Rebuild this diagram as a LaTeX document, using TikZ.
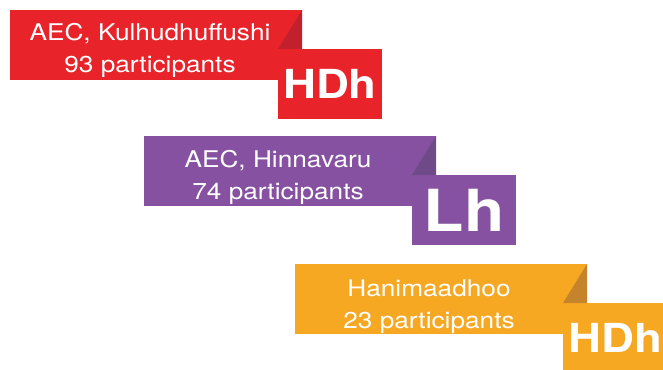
\documentclass[tikz,border=0pt]{standalone}
\usepackage{fontspec}
\setmainfont{TeX Gyre Heros}[FakeStretch=1.14]
\usetikzlibrary{positioning}
\definecolor{hdhred}{HTML}{E8232A}
\definecolor{hdhreddark}{HTML}{C2202C}
\definecolor{lhpurple}{HTML}{8551A0}
\definecolor{lhpurpledark}{HTML}{6F4A89}
\definecolor{hdhorange}{HTML}{F7A823}
\definecolor{hdhorangedark}{HTML}{C5832C}

\begin{document}
\begin{tikzpicture}[x=1pt,y=-1pt,
		banner/.style={fill=#1,minimum width=292pt,minimum height=70pt,inner sep=0pt,outer sep=0pt,anchor=north west},
		atollbox/.style={fill=#1,minimum width=104pt,minimum height=70pt,inner sep=0pt,outer sep=0pt,text=white,font=\fontsize{40}{40}\selectfont\bfseries},
		bannertext/.style={text=white,align=center,font=\fontsize{23}{32}\selectfont}]
			\useasboundingbox (0,0) rectangle (663,369);
			\clip (0,0) rectangle (663,369);
			% Kulhudhuffushi
			\node [banner=hdhred] (ban1) at (10,10) {};
			\node [atollbox=hdhred,below right=39pt and -24pt of ban1.north east] (box1) {HDh};
			\fill [hdhreddark] (ban1.north east) -- (box1.north west) -- (box1.north west -| ban1.east) -- cycle;
			\node [bannertext] (txt1) at ([xshift=-6pt,yshift=-5pt]ban1.center) {AEC, Kulhudhuffushi\\93 participants};
			% Hinnavaru
			\node [banner=lhpurple] (ban2) at (144,136) {};
			\node [atollbox=lhpurple,font=\fontsize{58}{58}\selectfont\bfseries,below right=39pt and -24pt of ban2.north east] (box2) {Lh};
			\fill [lhpurpledark] (ban2.north east) -- (box2.north west) -- (box2.north west -| ban2.east) -- cycle;
			\node [bannertext] (txt2) at ([xshift=-12pt,yshift=-6pt]ban2.center) {AEC, Hinnavaru\\74 participants};
			% Hanimaadhoo
			\node [banner=hdhorange] (ban3) at (295,264) {};
			\node [atollbox=hdhorange,below right=39pt and -24pt of ban3.north east] (box3) {HDh};
			\fill [hdhorangedark] (ban3.north east) -- (box3.north west) -- (box3.north west -| ban3.east) -- cycle;
			\node [bannertext] (txt3) at ([xshift=-12pt,yshift=-8pt]ban3.center) {Hanimaadhoo\\23 participants};
		\end{tikzpicture}
\end{document}
